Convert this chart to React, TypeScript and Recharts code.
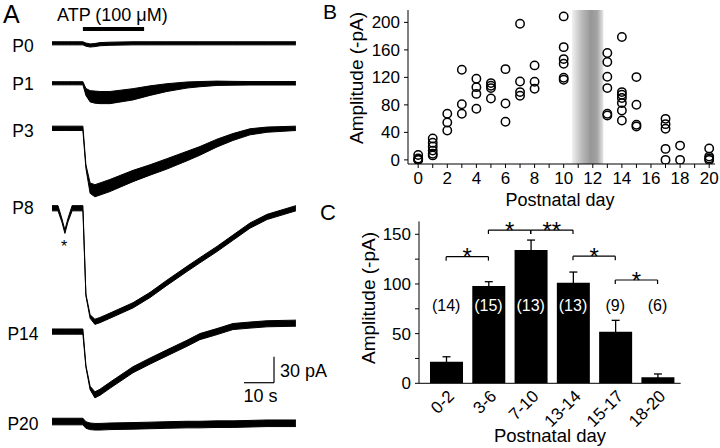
import {
  Area,
  Bar,
  BarChart,
  ComposedChart,
  ErrorBar,
  ReferenceArea,
  ReferenceDot,
  ReferenceLine,
  Scatter,
  ScatterChart,
  XAxis,
  YAxis
} from "recharts";

const font = '"Liberation Sans", Arial, sans-serif';

// ---- A: example whole-cell traces (inward current in pA, read at these times in s) ----
const traceTimes = [0, 2, 3.3, 4.3, 5.3, 6.7, 10.3, 11.3, 12.7, 14.3, 16, 19.3, 27, 32.7, 38.3, 45, 49.3, 55, 60.3, 66, 71.7, 81.3];
const p0Current = [0, 0, 0, 0, 0, 0, 0, 1.5, 2.5, 2, 1, 0.5, 0, 0, 0, 0, 0, 0, 0, 0, 0, 0];
const p0Noise = [1.8, 1.8, 1.8, 1.8, 1.8, 1.8, 1.8, 1.8, 1.8, 1.8, 1.8, 1.8, 1.8, 1.8, 1.8, 1.8, 1.8, 1.8, 1.8, 1.8, 1.8, 1.8];
const p1Current = [0, 0, 0, 0, 0, 0, 0, 10, 15, 16, 16.5, 16.5, 12.7, 8.5, 5, 2, 1, 0, 0, 0, 0, 0];
const p1Noise = [1.8, 1.8, 1.8, 1.8, 1.8, 1.8, 1.8, 4, 6.5, 7, 7, 7, 6.5, 5.5, 4.5, 3.5, 3, 2.5, 2.2, 2, 2, 2];
const p3Current = [0, 0, 0, 0, 0, 0, 0, 44, 69, 72, 70, 66, 55, 48, 41, 32, 26, 17, 10, 4, 1.5, 0];
const p3Noise = [2.5, 2.5, 2.5, 2.5, 2.5, 2.5, 2.5, 2, 6, 7, 7, 7, 6.5, 6, 6, 5.5, 5, 4.5, 4, 3.5, 3, 2.5];
const p8Current = [0, 0, 14, 27, 14, 0, 0, 100, 125, 131, 129, 124, 112, 100, 86, 70, 60, 47, 34, 20, 10, 0];
const p8Noise = [3, 3, 2, 2, 2, 3, 3, 1, 2, 3, 3, 3, 3, 3, 3, 3, 3, 3, 3, 3, 3, 3];
const p14Current = [0, 0, 0, 0, 0, 0, 0, 40, 65, 73, 70, 62, 44, 34, 24.6, 13.5, 5.8, 0, -5.8, -7.5, -9, -9.7];
const p14Noise = [3, 3, 3, 3, 3, 3, 3, 1, 2, 3.5, 3.5, 3.5, 3.5, 3.5, 3.5, 3.5, 3.5, 3.5, 3.5, 3.5, 3.5, 3.5];
const p20Current = [0, 0, 0, 0, 0, 0, 0, 4, 5.5, 6, 6, 5.5, 5, 4.5, 4, 3.5, 3.5, 3, 3, 2.5, 2, 2];
const p20Noise = [3.8, 3.8, 3.8, 3.8, 3.8, 3.8, 3.8, 3.8, 3.8, 3.8, 3.8, 3.8, 3.8, 3.8, 3.8, 3.8, 3.8, 3.8, 3.8, 3.8, 3.8, 3.8];
const atpStart = 10.3;
const atpEnd = 30.7;
const scalePa = 30;
const scaleSec = 10;

// ---- B: amplitude per cell vs postnatal day ----
const cellDays = [0, 1, 2, 3, 4, 5, 6, 7, 8, 10, 13, 14, 15, 17, 18, 20];
const cellAmps = [
  [0, 0.5, 2, 7],
  [6.5, 9, 13.5, 19.5, 25, 31],
  [42.7, 54.4, 67],
  [67, 81, 131],
  [74.3, 96, 105.8, 117.9],
  [89.3, 104.4, 107.8, 111.7],
  [55.4, 82, 132],
  [93.2, 98.6, 114, 198],
  [103.4, 113.6, 137.4],
  [116.5, 119.4, 139.8, 146.6, 164, 208.7],
  [64.5, 67, 104.4, 120.9, 142.3, 155.4],
  [57.2, 71.8, 82.6, 89.9, 94.7, 98.6, 178.7],
  [48.5, 51, 80.1, 120.4],
  [0, 16, 45.2, 52, 59.7],
  [0, 20.8],
  [0, 1.9, 4.8, 16.5]
];
const dayTicks = [0, 1, 2, 3, 4, 5, 6, 7, 8, 9, 10, 11, 12, 13, 14, 15, 16, 17, 18, 19, 20];
const ampTicksB = [0, 40, 80, 120, 160, 200];
const gapFrom = 10.56;
const gapTo = 12.73;

// ---- C: grouped means ----
const groups = ["0-2", "3-6", "7-10", "13-14", "15-17", "18-20"];
const groupMeans = [21.7, 98, 134.2, 101.3, 52, 6];
const groupSems = [5, 4.3, 10, 10.7, 11.4, 3.4];
const groupN = [14, 15, 13, 13, 9, 6];
const ampTicksC = [0, 25, 50, 75, 100, 125, 150];
const sigPairs = [
  ["0-2", "3-6"],
  ["3-6", "7-10"],
  ["7-10", "13-14"],
  ["13-14", "15-17"],
  ["15-17", "18-20"]
];
const sigLevels = [127.5, 154.3, 154.3, 128, 104];
const sigMarks = ["*", "*", "**", "*", "*"];

// layout of panel A (pA below the top of the plot)
const traces = [
  { name: "P0", cur: p0Current, noise: p0Noise, offset: 26.9 },
  { name: "P1", cur: p1Current, noise: p1Noise, offset: 73 },
  { name: "P3", cur: p3Current, noise: p3Noise, offset: 125 },
  { name: "P8", cur: p8Current, noise: p8Noise, offset: 217.2 },
  { name: "P14", cur: p14Current, noise: p14Noise, offset: 359.5 },
  { name: "P20", cur: p20Current, noise: p20Noise, offset: 463.3 }
];
const traceLabelY = [51.5, 90, 136.5, 213.5, 339.5, 430];

const traceRows = traceTimes.map((t, i) => {
  const row: Record<string, number | number[]> = { t };
  traces.forEach((tr) => {
    const c = tr.offset + tr.cur[i];
    row[tr.name] = [c - tr.noise[i], c + tr.noise[i]];
  });
  return row;
});

const cellPoints = cellDays.flatMap((day, i) => cellAmps[i].map((amp) => ({ day, amp })));

const groupRows = groups.map((group, i) => ({ group, mean: groupMeans[i], sem: groupSems[i] }));

const axisStroke = { stroke: "#000", strokeWidth: 1 };
const tickStyle = { fill: "#000", fontSize: 17, fontFamily: font };

function Ring(props: any) {
  return <circle cx={props.cx} cy={props.cy} r={4.2} fill="none" stroke="#000" strokeWidth={1.5} />;
}

function GroupTick({ x, y, payload }: any) {
  return (
    <text
      x={0}
      y={0}
      transform={`translate(${x + 9},${y + 14}) rotate(-45)`}
      textAnchor="end"
      fontSize={17}
      fontFamily={font}
      fill="#000"
    >
      {payload.value}
    </text>
  );
}

function TracesPanel() {
  const barY = 10.4;
  const sbX = 74;
  const sbY = 418.5;
  return (
    <ComposedChart width={330} height={448} data={traceRows} margin={{ top: 20, left: 52, right: 34, bottom: 8 }}>
      <XAxis type="number" dataKey="t" domain={[0, 81.33]} hide allowDataOverflow />
      <YAxis type="number" domain={[0, 484.6]} reversed hide allowDataOverflow />
      {traces.map((tr) => (
        <Area
          key={tr.name}
          dataKey={tr.name}
          type="linear"
          stroke="#000"
          strokeWidth={1}
          fill="#000"
          fillOpacity={1}
          dot={false}
          activeDot={false}
          isAnimationActive={false}
        />
      ))}
      <ReferenceLine segment={[{ x: atpStart, y: barY }, { x: atpEnd, y: barY }]} stroke="#000" strokeWidth={4} ifOverflow="visible" />
      <ReferenceLine segment={[{ x: sbX, y: sbY - scalePa }, { x: sbX, y: sbY }]} stroke="#000" strokeWidth={1.2} ifOverflow="visible" />
      <ReferenceLine segment={[{ x: sbX - scaleSec, y: sbY }, { x: sbX, y: sbY }]} stroke="#000" strokeWidth={1.2} ifOverflow="visible" />
    </ComposedChart>
  );
}

function ScatterPanel() {
  return (
    <ScatterChart width={390} height={215} margin={{ top: 10, right: 5, left: 18, bottom: 21 }}>
      <defs>
        <linearGradient id="gapBand" x1="0" y1="0" x2="1" y2="0">
          <stop offset="0%" stopColor="#f2f2f2" />
          <stop offset="30%" stopColor="#bdbdbd" />
          <stop offset="60%" stopColor="#979797" />
          <stop offset="80%" stopColor="#a3a3a3" />
          <stop offset="100%" stopColor="#e6e6e6" />
        </linearGradient>
      </defs>
      <XAxis
        type="number"
        dataKey="day"
        domain={[-0.7, 20.4]}
        ticks={dayTicks}
        interval={0}
        tickFormatter={(v: number) => (v % 2 === 0 ? String(v) : "")}
        tickSize={4}
        tickMargin={4}
        height={30}
        axisLine={axisStroke}
        tickLine={axisStroke}
        tick={tickStyle}
        allowDataOverflow
      />
      <YAxis
        type="number"
        dataKey="amp"
        domain={[-6, 218]}
        ticks={ampTicksB}
        width={60}
        tickSize={4}
        tickMargin={4}
        axisLine={axisStroke}
        tickLine={axisStroke}
        tick={tickStyle}
        allowDataOverflow
      />
      <ReferenceArea x1={gapFrom} x2={gapTo} fill="url(#gapBand)" fillOpacity={1} stroke="none" ifOverflow="visible" />
      <Scatter data={cellPoints} shape={Ring} isAnimationActive={false} />
    </ScatterChart>
  );
}

function BarsPanel() {
  return (
    <BarChart width={390} height={243} data={groupRows} margin={{ top: 16.4, right: 39.3, left: 29, bottom: 4.7 }}>
      <XAxis
        dataKey="group"
        type="category"
        height={60}
        tickSize={0}
        tickMargin={0}
        tickLine={false}
        axisLine={axisStroke}
        padding={{ left: 6, right: 2 }}
        interval={0}
        tick={<GroupTick />}
      />
      <YAxis
        type="number"
        domain={[0, 163]}
        ticks={ampTicksC}
        tickFormatter={(v: number) => (v % 50 === 0 ? String(v) : "")}
        width={60}
        tickSize={4}
        tickMargin={4}
        axisLine={axisStroke}
        tickLine={axisStroke}
        tick={tickStyle}
        allowDataOverflow
      />
      <Bar dataKey="mean" fill="#000" barSize={33} isAnimationActive={false}>
        <ErrorBar dataKey="sem" direction="y" width={4} stroke="#000" strokeWidth={1.3} />
      </Bar>
      {sigPairs.map(([a, b], i) => (
        <ReferenceLine
          key={`h${i}`}
          segment={[{ x: a, y: sigLevels[i] }, { x: b, y: sigLevels[i] }]}
          stroke="#000"
          strokeWidth={1.2}
          label={{ value: sigMarks[i], position: "top", offset: -8.6, fontSize: 24, fill: "#000", fontFamily: font }}
        />
      ))}
      {sigPairs.flatMap(([a, b], i) =>
        [a, b].map((g, j) => (
          <ReferenceLine
            key={`v${i}-${j}`}
            segment={[{ x: g, y: sigLevels[i] }, { x: g, y: sigLevels[i] - 4 }]}
            stroke="#000"
            strokeWidth={1.2}
          />
        ))
      )}
      {groups.map((g, i) => (
        <ReferenceDot
          key={`n${g}`}
          x={g}
          y={79}
          r={0}
          stroke="none"
          label={{
            value: `(${groupN[i]})`,
            position: "center",
            fontSize: 16,
            fontFamily: font,
            fill: groupMeans[i] > 79 ? "#fff" : "#000"
          }}
        />
      ))}
    </BarChart>
  );
}

export default function App() {
  const txt = { fontFamily: font, fill: "#000" };
  return (
    <div style={{ position: "absolute", left: 0, top: 0, width: 720, height: 448, background: "#fff", overflow: "hidden" }}>
      <div style={{ position: "absolute", left: 0, top: 0 }}>
        <TracesPanel />
      </div>
      <div style={{ position: "absolute", left: 330, top: 0 }}>
        <ScatterPanel />
      </div>
      <div style={{ position: "absolute", left: 330, top: 205 }}>
        <BarsPanel />
      </div>
      <svg width={720} height={448} style={{ position: "absolute", left: 0, top: 0, pointerEvents: "none" }}>
        <text x={3} y={23} fontSize={25} {...txt}>A</text>
        <text x={323} y={19} fontSize={21} {...txt}>B</text>
        <text x={320} y={220} fontSize={22} {...txt}>C</text>
        <text x={57} y={21} fontSize={18} {...txt}>ATP (100 μM)</text>
        {traces.map((tr, i) => (
          <text key={tr.name} x={23} y={traceLabelY[i]} fontSize={17.5} textAnchor="middle" {...txt}>
            {tr.name}
          </text>
        ))}
        <text x={64} y={252} fontSize={16} textAnchor="middle" {...txt}>*</text>
        <text x={280} y={376.5} fontSize={18} {...txt}>30 pA</text>
        <text x={243.5} y={401.5} fontSize={18} {...txt}>10 s</text>
        <text transform="translate(363,78) rotate(-90)" fontSize={19} textAnchor="middle" {...txt}>Amplitude (-pA)</text>
        <text x={560} y={206} fontSize={18} textAnchor="middle" {...txt}>Postnatal day</text>
        <text transform="translate(375,298) rotate(-90)" fontSize={19} textAnchor="middle" {...txt}>Amplitude (-pA)</text>
        <text x={550} y={442} fontSize={18.5} textAnchor="middle" {...txt}>Postnatal day</text>
      </svg>
    </div>
  );
}
